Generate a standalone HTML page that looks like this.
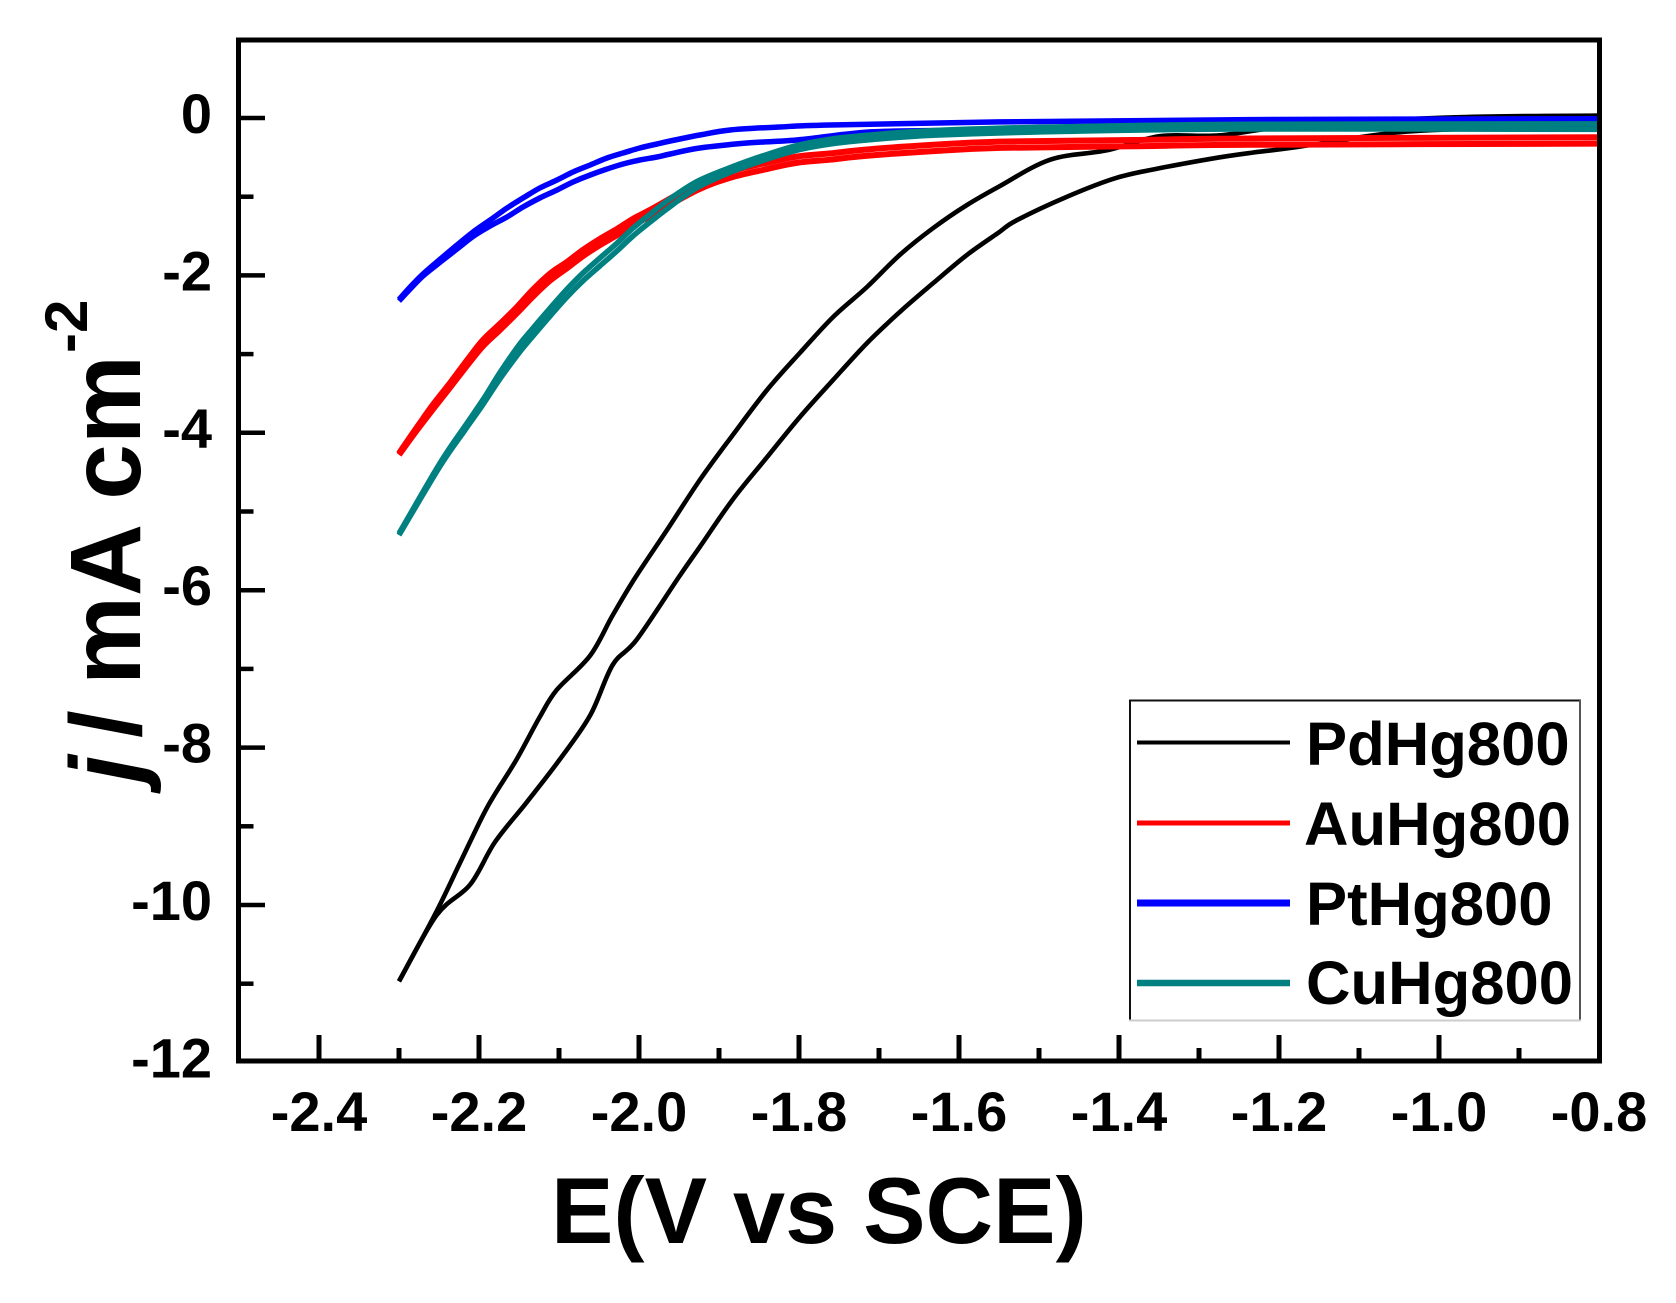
<!DOCTYPE html>
<html lang="en">
<head>
<meta charset="utf-8">
<title>Polarization curves</title>
<style>
html,body{margin:0;padding:0;background:#fff;width:1676px;height:1303px;overflow:hidden}
svg{display:block}
text{font-family:"Liberation Sans",Arial,sans-serif;font-weight:bold;fill:#000}
</style>
</head>
<body>
<svg id="chart" xmlns="http://www.w3.org/2000/svg" width="1676" height="1303" viewBox="0 0 1676 1303">
  <rect x="0" y="0" width="1676" height="1303" fill="#fff"/>
  <g id="series"></g>
  <rect x="238.5" y="40" width="1361" height="1021" fill="none" stroke="#000" stroke-width="5"/>
  <g id="ticks"></g>
  <text x="551" y="1243" font-size="93.6">E(V vs SCE)</text>
  <g>
    <text transform="translate(140,783) rotate(-90)" font-size="100" font-style="italic">j</text>
    <text transform="translate(140,738) rotate(-90)" font-size="100">/</text>
    <text transform="translate(140,685) rotate(-90)" font-size="100">mA cm</text>
    <text transform="translate(87,353) rotate(-90)" font-size="60">-2</text>
  </g>
  <g>
    <rect x="1130" y="700" width="450" height="320" fill="#fff"/>
    <line x1="1129" y1="700.5" x2="1581" y2="700.5" stroke="#111" stroke-width="2"/>
    <line x1="1130" y1="700" x2="1130" y2="1021" stroke="#111" stroke-width="2"/>
    <line x1="1580" y1="700" x2="1580" y2="1021" stroke="#555" stroke-width="2"/>
    <line x1="1129" y1="1020.5" x2="1581" y2="1020.5" stroke="#ccc" stroke-width="2"/>
    <g>
      <line x1="1137" y1="742.5" x2="1290" y2="742.5" stroke="#000" stroke-width="4"/>
      <text x="1306" y="765" font-size="61.6">PdHg800</text>
    </g>
    <g>
      <line x1="1137" y1="823" x2="1290" y2="823" stroke="#ff0000" stroke-width="5"/>
      <text x="1304" y="845" font-size="61.6">AuHg800</text>
    </g>
    <g>
      <line x1="1137" y1="903" x2="1290" y2="903" stroke="#0000ff" stroke-width="7"/>
      <text x="1306" y="925" font-size="61.6">PtHg800</text>
    </g>
    <g>
      <line x1="1137" y1="983" x2="1290" y2="983" stroke="#008080" stroke-width="6.5"/>
      <text x="1306" y="1004" font-size="61.6">CuHg800</text>
    </g>
  </g>
</svg>
<script>
var xTickLabels = ["-2.4","-2.2","-2.0","-1.8","-1.6","-1.4","-1.2","-1.0","-0.8"];
var xMinorTicks = [-2.3,-2.1,-1.9,-1.7,-1.5,-1.3,-1.1,-0.9];
var yTickLabels = ["0","-2","-4","-6","-8","-10","-12"];
var yMinorTicks = [-1,-3,-5,-7,-9,-11];

var pdUpperE = [-2.3,-2.253,-2.224,-2.195,-2.18,-2.153,-2.124,-2.103,-2.061,-2.033,-2.005,-1.965,-1.924,-1.883,-1.84,-1.799,-1.7575,-1.715,-1.674,-1.6325,-1.59,-1.551,-1.486,-1.415,-1.349,-1.274,-1.174,-0.974,-0.8];
var pdUpperJ = [-10.97,-10.08,-9.47,-8.86,-8.59,-8.15,-7.61,-7.27,-6.83,-6.32,-5.845,-5.235,-4.60,-4.03,-3.456,-2.986,-2.53,-2.147,-1.74,-1.40,-1.105,-0.877,-0.53,-0.41,-0.23,-0.22,-0.09,0.01,0.03];
var pdLowerE = [-2.3,-2.253,-2.211,-2.18,-2.14,-2.099,-2.061,-2.033,-2.003,-1.951,-1.924,-1.883,-1.84,-1.799,-1.7575,-1.715,-1.674,-1.6325,-1.59,-1.551,-1.528,-1.465,-1.403,-1.34,-1.274,-1.233,-1.178,-1.049,-0.924,-0.8];
var pdLowerJ = [-10.97,-10.13,-9.74,-9.2,-8.69,-8.15,-7.59,-6.95,-6.63,-5.845,-5.45,-4.85,-4.31,-3.80,-3.33,-2.86,-2.465,-2.10,-1.74,-1.46,-1.30,-1.00,-0.76,-0.62,-0.50,-0.44,-0.37,-0.18,-0.13,-0.11];

var auE = [-2.3,-2.276,-2.2575,-2.236,-2.215,-2.195,-2.174,-2.1525,-2.1325,-2.111,-2.09,-2.07,-2.049,-2.0275,-2.0075,-1.986,-1.928,-1.886,-1.845,-1.803,-1.761,-1.715,-1.632,-1.549,-1.383,-1.236,-0.8];
var auUpperJ = [-4.26,-3.906,-3.642,-3.363,-3.078,-2.819,-2.616,-2.40,-2.179,-1.975,-1.828,-1.675,-1.536,-1.409,-1.281,-1.167,-0.84,-0.68,-0.58,-0.49,-0.45,-0.40,-0.34,-0.30,-0.28,-0.26,-0.245];
var auLowerJ = [-4.28,-3.946,-3.702,-3.423,-3.148,-2.899,-2.696,-2.48,-2.269,-2.065,-1.908,-1.755,-1.616,-1.489,-1.361,-1.247,-0.92,-0.76,-0.66,-0.57,-0.53,-0.48,-0.42,-0.38,-0.36,-0.34,-0.325];

var ptUpperE = [-2.3,-2.286,-2.27,-2.249,-2.2275,-2.2075,-2.186,-2.165,-2.145,-2.124,-2.1025,-2.0825,-2.061,-2.04,-2.02,-1.999,-1.9775,-1.961,-1.924,-1.886,-1.824,-1.761,-1.549,-1.236,-0.8];
var ptUpperJ = [-2.306,-2.147,-1.982,-1.798,-1.614,-1.449,-1.296,-1.144,-1.017,-0.889,-0.788,-0.686,-0.597,-0.508,-0.445,-0.381,-0.330,-0.292,-0.216,-0.152,-0.114,-0.089,-0.05,-0.02,-0.01];
var ptLowerE = [-2.3,-2.286,-2.27,-2.249,-2.2275,-2.2075,-2.186,-2.165,-2.145,-2.124,-2.1025,-2.0825,-2.061,-2.04,-2.02,-1.999,-1.9775,-1.961,-1.924,-1.865,-1.803,-1.736,-1.674,-1.424,-0.8];
var ptLowerJ = [-2.325,-2.173,-2.008,-1.836,-1.665,-1.506,-1.372,-1.258,-1.131,-1.017,-0.915,-0.813,-0.724,-0.648,-0.584,-0.534,-0.496,-0.457,-0.381,-0.318,-0.28,-0.2,-0.165,-0.13,-0.09];

var cuE = [-2.3,-2.249,-2.2175,-2.195,-2.174,-2.151,-2.1325,-2.111,-2.09,-2.07,-2.049,-2.0275,-2.0075,-1.986,-1.965,-1.928,-1.886,-1.845,-1.803,-1.761,-1.715,-1.632,-1.465,-1.236,-0.8];
var cuUpperJ = [-5.28,-4.39,-3.915,-3.579,-3.238,-2.898,-2.67,-2.415,-2.174,-1.97,-1.78,-1.589,-1.399,-1.221,-1.055,-0.81,-0.63,-0.48,-0.35,-0.27,-0.22,-0.16,-0.11,-0.08,-0.075];
var cuLowerJ = [-5.30,-4.43,-3.965,-3.639,-3.318,-2.998,-2.77,-2.515,-2.274,-2.07,-1.88,-1.689,-1.499,-1.321,-1.155,-0.89,-0.69,-0.54,-0.41,-0.33,-0.28,-0.22,-0.17,-0.14,-0.145];

var NS = "http://www.w3.org/2000/svg";
function xScale(e){ return 239 + 800 * (e + 2.5); }
function yScale(j){ return 118 - 78.7 * j; }

function smoothPath(es, js){
  var pts = [];
  for (var i = 0; i < es.length; i++) {
    pts.push([xScale(es[i]), yScale(js[i])]);
  }
  var d = "M" + pts[0][0].toFixed(1) + " " + pts[0][1].toFixed(1);
  for (var k = 0; k < pts.length - 1; k++) {
    var p0 = pts[Math.max(k - 1, 0)];
    var p1 = pts[k];
    var p2 = pts[k + 1];
    var p3 = pts[Math.min(k + 2, pts.length - 1)];
    var c1x = p1[0] + (p2[0] - p0[0]) / 6;
    var c1y = p1[1] + (p2[1] - p0[1]) / 6;
    var c2x = p2[0] - (p3[0] - p1[0]) / 6;
    var c2y = p2[1] - (p3[1] - p1[1]) / 6;
    d += " C" + c1x.toFixed(1) + " " + c1y.toFixed(1) + " " + c2x.toFixed(1) + " " + c2y.toFixed(1) + " " + p2[0].toFixed(1) + " " + p2[1].toFixed(1);
  }
  return d;
}

function addCurve(parent, es, js, color, width, name){
  var p = document.createElementNS(NS, "path");
  p.setAttribute("d", smoothPath(es, js));
  p.setAttribute("fill", "none");
  p.setAttribute("stroke", color);
  p.setAttribute("stroke-width", width);
  p.setAttribute("stroke-linejoin", "round");
  
  
  parent.appendChild(p);
}

var seriesGroup = document.getElementById("series");
addCurve(seriesGroup, pdLowerE, pdLowerJ, "#000000", 4.6, "pdhg800-reverse-curve");
addCurve(seriesGroup, pdUpperE, pdUpperJ, "#000000", 4.6, "pdhg800-forward-curve");
addCurve(seriesGroup, ptLowerE, ptLowerJ, "#0000ff", 5.5, "pthg800-reverse-curve");
addCurve(seriesGroup, ptUpperE, ptUpperJ, "#0000ff", 5.5, "pthg800-forward-curve");
addCurve(seriesGroup, auE, auLowerJ, "#ff0000", 6, "auhg800-reverse-curve");
addCurve(seriesGroup, auE, auUpperJ, "#ff0000", 6, "auhg800-forward-curve");
addCurve(seriesGroup, cuE, cuLowerJ, "#008080", 5.5, "cuhg800-reverse-curve");
addCurve(seriesGroup, cuE, cuUpperJ, "#008080", 5.5, "cuhg800-forward-curve");

function addTick(parent, x1, y1, x2, y2, width, name){
  var l = document.createElementNS(NS, "line");
  l.setAttribute("x1", x1);
  l.setAttribute("y1", y1);
  l.setAttribute("x2", x2);
  l.setAttribute("y2", y2);
  l.setAttribute("stroke", "#000");
  l.setAttribute("stroke-width", width);
  
  
  parent.appendChild(l);
}

function addLabel(parent, x, y, anchor, str, name){
  var t = document.createElementNS(NS, "text");
  t.setAttribute("x", x);
  t.setAttribute("y", y);
  t.setAttribute("text-anchor", anchor);
  t.setAttribute("font-size", "56");
  t.textContent = str;
  
  
  parent.appendChild(t);
}

var tickGroup = document.getElementById("ticks");
xTickLabels.forEach(function(label){
  var x = xScale(parseFloat(label));
  if (parseFloat(label) > -0.85) {
    addLabel(tickGroup, x, 1131, "middle", label, "x-tick-label");
  } else {
    addTick(tickGroup, x, 1060, x, 1035, 5, "x-major-tick");
    addLabel(tickGroup, x, 1131, "middle", label, "x-tick-label");
  }
});
xMinorTicks.forEach(function(v){
  var x = xScale(v);
  addTick(tickGroup, x, 1060, x, 1048, 5, "x-minor-tick");
});
yTickLabels.forEach(function(label){
  var y = yScale(parseFloat(label));
  if (parseFloat(label) > -11.5) {
    addTick(tickGroup, 240, y, 265, y, 4.5, "y-major-tick");
  }
  addLabel(tickGroup, 212, y + 15, "end", label, "y-tick-label");
});
yMinorTicks.forEach(function(v){
  var y = yScale(v);
  addTick(tickGroup, 240, y, 253.5, y, 4.5, "y-minor-tick");
});
</script>
</body>
</html>
